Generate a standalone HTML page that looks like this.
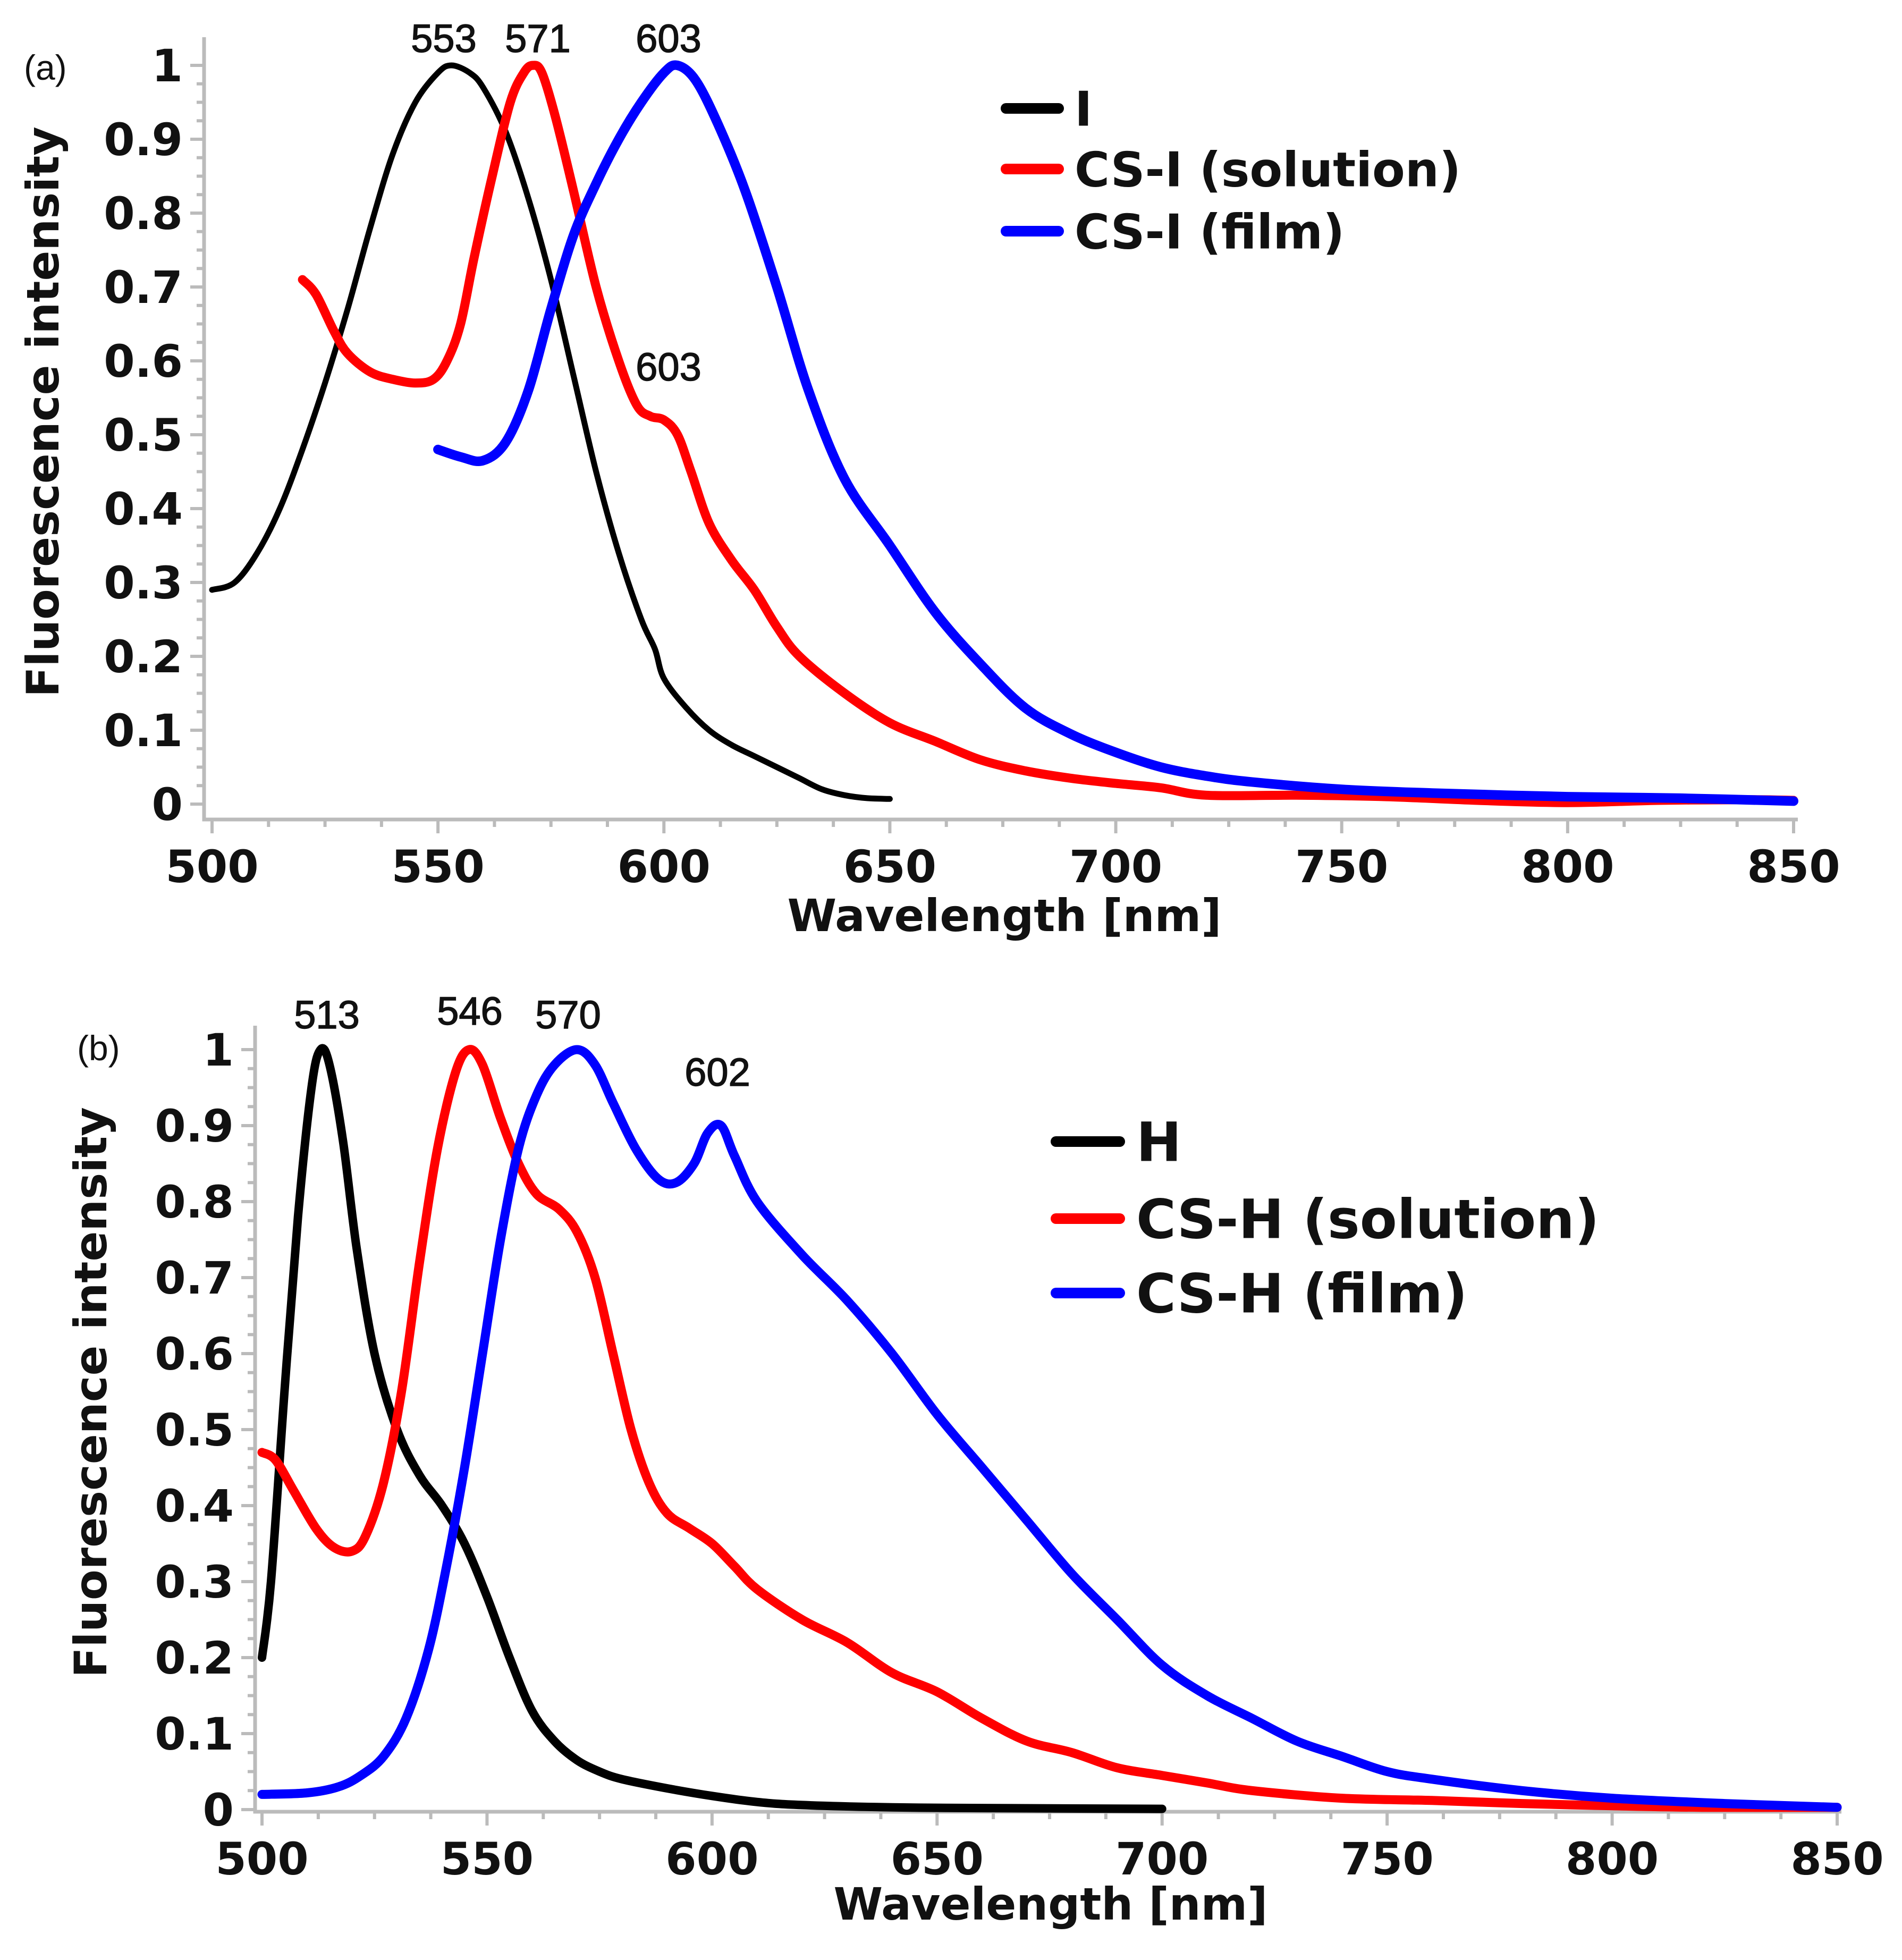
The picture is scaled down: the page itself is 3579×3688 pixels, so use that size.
<!DOCTYPE html>
<html><head><meta charset="utf-8"><style>
html,body{margin:0;padding:0;background:#fff;}
svg{display:block;}
.tk{font-family:"DejaVu Sans","Liberation Sans",sans-serif;font-weight:bold;font-size:84px;fill:#111;}
.ttl{font-family:"DejaVu Sans","Liberation Sans",sans-serif;font-weight:bold;font-size:84px;fill:#111;}
.pk{font-family:"Liberation Sans",sans-serif;font-size:74px;fill:#111;stroke:#111;stroke-width:1.5px;}
.lg{font-family:"DejaVu Sans","Liberation Sans",sans-serif;font-weight:bold;fill:#111;}
.pn{font-family:"Liberation Sans",sans-serif;font-size:66px;fill:#111;}
</style></head><body>
<svg id="fig" width="3579" height="3688" viewBox="0 0 3579 3688" xmlns="http://www.w3.org/2000/svg"></svg>
<script>
// Panel (a) data
const aIx=[500,505,510,515,520,525,530,535,540,545,550,553,557,560,565,570,575,580,585,590,595,598,600,605,610,615,620,625,630,635,640,645,650];
const aIy=[0.29,0.30,0.34,0.40,0.48,0.57,0.67,0.78,0.88,0.95,0.99,1.0,0.99,0.97,0.91,0.82,0.71,0.58,0.45,0.34,0.25,0.21,0.17,0.13,0.10,0.08,0.065,0.05,0.035,0.02,0.012,0.008,0.007];
const aSx=[520,523,527,530,535,540,545,549,552,555,558,562,566,569,571,573,576,580,585,590,594,597,600,603,606,610,615,620,625,630,640,650,660,670,680,690,700,710,720,740,760,780,800,820,840,850];
const aSy=[0.71,0.69,0.64,0.61,0.585,0.575,0.57,0.575,0.60,0.65,0.74,0.85,0.95,0.99,1.0,0.99,0.93,0.83,0.70,0.60,0.54,0.525,0.52,0.50,0.45,0.38,0.33,0.29,0.24,0.20,0.15,0.11,0.085,0.06,0.045,0.035,0.028,0.022,0.012,0.012,0.01,0.005,0.002,0.005,0.006,0.005];
const aFx=[550,555,560,565,570,575,580,585,590,595,600,603,607,612,618,625,632,640,650,660,670,680,690,700,710,720,730,750,770,800,825,850];
const aFy=[0.48,0.47,0.465,0.49,0.56,0.67,0.77,0.84,0.90,0.95,0.99,1.0,0.98,0.92,0.83,0.70,0.56,0.44,0.35,0.26,0.19,0.13,0.095,0.07,0.05,0.038,0.03,0.02,0.015,0.01,0.008,0.004];
// Panel (b) data
const bHx=[500,502,505,508,511,513,515,518,521,525,530,535,540,545,550,555,560,565,570,575,580,590,600,610,620,640,660,700];
const bHy=[0.20,0.30,0.55,0.78,0.95,1.0,0.98,0.88,0.74,0.60,0.50,0.44,0.40,0.35,0.28,0.20,0.13,0.09,0.065,0.05,0.04,0.028,0.018,0.01,0.006,0.003,0.002,0.001];
const bSx=[500,503,507,512,516,520,523,527,531,535,539,543,546,549,553,557,561,566,570,574,578,582,586,590,595,600,605,610,620,630,640,650,660,670,680,690,700,710,720,740,760,780,800,820,850];
const bSy=[0.47,0.46,0.42,0.37,0.345,0.34,0.36,0.43,0.55,0.72,0.87,0.97,1.0,0.98,0.91,0.85,0.81,0.79,0.76,0.70,0.60,0.50,0.43,0.39,0.37,0.35,0.32,0.29,0.25,0.22,0.18,0.155,0.12,0.09,0.075,0.055,0.045,0.035,0.025,0.015,0.012,0.008,0.005,0.003,0.003];
const bFx=[500,510,517,522,527,532,537,541,545,549,553,557,561,565,570,574,578,583,588,592,596,599,602,605,610,620,630,640,650,660,670,680,690,700,710,720,730,740,750,760,780,800,825,850];
const bFy=[0.02,0.022,0.03,0.045,0.07,0.12,0.21,0.32,0.45,0.60,0.75,0.87,0.94,0.98,1.0,0.98,0.93,0.87,0.83,0.825,0.85,0.89,0.90,0.86,0.80,0.73,0.67,0.60,0.52,0.45,0.38,0.31,0.25,0.19,0.15,0.12,0.09,0.07,0.05,0.04,0.025,0.015,0.008,0.003];
const xTicks=[500,550,600,650,700,750,800,850];
const yTicks=[0,0.1,0.2,0.3,0.4,0.5,0.6,0.7,0.8,0.9,1];
const yTickLabels=["0","0.1","0.2","0.3","0.4","0.5","0.6","0.7","0.8","0.9","1"];

const NS="http://www.w3.org/2000/svg";
const svg=document.getElementById('fig');
function el(tag,attrs,parent){const e=document.createElementNS(NS,tag);for(const k in attrs)e.setAttribute(k,attrs[k]);(parent||svg).appendChild(e);return e;}
function smooth(P){
  let d=`M${P[0][0].toFixed(1)},${P[0][1].toFixed(1)}`;
  for(let i=0;i<P.length-1;i++){
    const p0=P[Math.max(0,i-1)],p1=P[i],p2=P[i+1],p3=P[Math.min(P.length-1,i+2)];
    const c1=[p1[0]+(p2[0]-p0[0])/6,p1[1]+(p2[1]-p0[1])/6];
    const c2=[p2[0]-(p3[0]-p1[0])/6,p2[1]-(p3[1]-p1[1])/6];
    d+=` C${c1[0].toFixed(1)},${c1[1].toFixed(1)} ${c2[0].toFixed(1)},${c2[1].toFixed(1)} ${p2[0].toFixed(1)},${p2[1].toFixed(1)}`;
  }
  return d;
}

function panel(cfg){
  const g=el('g',{});
  
  
  const X=v=>cfg.x0+(v-500)*(cfg.x1-cfg.x0)/350;
  const Y=v=>cfg.y0-v*(cfg.y0-cfg.y1);
  const ax=el('path',{d:`M${cfg.axX},${cfg.top} L${cfg.axX},${cfg.axY} L${X(850)+8},${cfg.axY}`,stroke:'#bbb','stroke-width':7,fill:'none'},g);
  
  
  let d='';
  for(let v=500;v<=850.01;v+=12.5){const x=X(v);const maj=Math.abs(v%50)<0.01;d+=`M${x},${cfg.axY} L${x},${cfg.axY+(maj?26:14)} `;}
  for(let v=0;v<=1.0001;v+=0.025){const y=Y(v);const maj=Math.abs(Math.round(v*10)-v*10)<0.001;d+=`M${cfg.axX},${y} L${cfg.axX-(maj?26:14)},${y} `;}
  const tk=el('path',{d:d,stroke:'#bbb','stroke-width':6,fill:'none'},g);
  
  
  xTicks.forEach(v=>{const t=el('text',{x:X(v),y:cfg.axY+118,'text-anchor':'middle',class:'tk'},g);t.textContent=v;
    
    });
  yTicks.forEach((v,i)=>{const t=el('text',{x:cfg.axX-40,y:Y(v)+30,'text-anchor':'end',class:'tk'},g);t.textContent=yTickLabels[i];
    
    });
  const xt=el('text',{x:cfg.xtX,y:cfg.xtY,'text-anchor':'middle',class:'ttl'},g);xt.textContent='Wavelength [nm]';
  
  
  const yt=el('text',{x:0,y:0,'text-anchor':'middle',class:'ttl',transform:`translate(${cfg.ytX},${cfg.ytY}) rotate(-90)`},g);yt.textContent='Fluorescence intensity';
  
  
  const pl=el('text',{x:cfg.plX,y:cfg.plY,class:'pn'},g);pl.textContent=cfg.label;
  
  
  cfg.series.forEach(s=>{
    const P=s.xs.map((x,i)=>[X(x),Y(s.ys[i])]);
    const p=el('path',{d:smooth(P),fill:'none',stroke:s.color,'stroke-width':s.w,'stroke-linejoin':'round','stroke-linecap':'round'},g);
    
    
  });
  cfg.peaks.forEach(pk=>{const t=el('text',{x:pk[1],y:pk[2],'text-anchor':'middle',class:'pk'},g);t.textContent=pk[0];
    
    });
  cfg.legend.forEach((lg,i)=>{
    const y=cfg.lgY[i];
    const ln=el('line',{x1:cfg.lgX1,x2:cfg.lgX2,y1:y,y2:y,stroke:lg[1],'stroke-width':20,'stroke-linecap':'round'},g);
    
    
    const t=el('text',{x:cfg.lgTX,y:y+cfg.lgFs*0.36,class:'lg','font-size':cfg.lgFs},g);t.textContent=lg[0];
    
    
  });
}

panel({name:'panel-a',label:'(a)',x0:399,x1:3375,y0:1513,y1:123,axX:384,axY:1542,top:70,
  xtX:1890,xtY:1752,ytX:110,ytY:775,plX:45,plY:150,
  series:[{name:'line-I',xs:aIx,ys:aIy,color:'#000',w:11},
          {name:'line-CS-I-solution',xs:aSx,ys:aSy,color:'#ff0000',w:17},
          {name:'line-CS-I-film',xs:aFx,ys:aFy,color:'#0000ff',w:18}],
  peaks:[['553',835,98],['571',1012,98],['603',1258,98],['603',1258,716]],
  legend:[['I','#000'],['CS-I (solution)','#ff0000'],['CS-I (film)','#0000ff']],
  lgY:[204,318,435],lgX1:1893,lgX2:1992,lgTX:2022,lgFs:90});

panel({name:'panel-b',label:'(b)',x0:493,x1:3457,y0:3405,y1:1975,axX:480,axY:3409,top:1930,
  xtX:1977,xtY:3612,ytX:200,ytY:2620,plX:145,plY:1995,
  series:[{name:'line-H',xs:bHx,ys:bHy,color:'#000',w:16},
          {name:'line-CS-H-solution',xs:bSx,ys:bSy,color:'#ff0000',w:17},
          {name:'line-CS-H-film',xs:bFx,ys:bFy,color:'#0000ff',w:17}],
  peaks:[['513',615,1935],['546',884,1928],['570',1069,1935],['602',1350,2043]],
  legend:[['H','#000'],['CS-H (solution)','#ff0000'],['CS-H (film)','#0000ff']],
  lgY:[2148,2293,2433],lgX1:1987,lgX2:2107,lgTX:2138,lgFs:102});
</script>
</body></html>
